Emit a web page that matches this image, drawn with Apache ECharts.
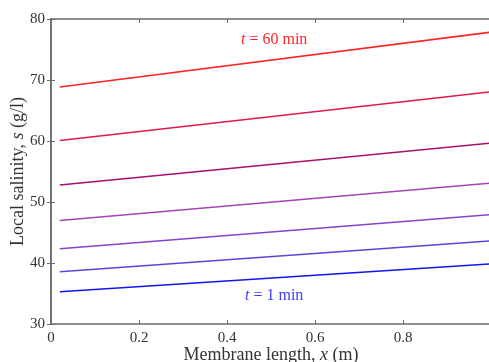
<!DOCTYPE html>
<html>
<head>
<meta charset="utf-8">
<script src="https://cdn.jsdelivr.net/npm/echarts@6/dist/echarts.min.js"></script>
<style>
  html, body { margin: 0; padding: 0; background: #fff; }
  #chart { width: 489px; height: 362px; }
</style>
</head>
<body>
<div id="chart"></div>
<script>
// positions along the membrane (m)
const xPos = [0.02, 1.0];

// local salinity (g/l), from t = 60 min (top) to t = 1 min (bottom)
const s60 = [68.85, 77.85];
const s50 = [60.1, 68.05];
const s40 = [52.8, 59.65];
const s30 = [46.95, 53.1];
const s20 = [42.35, 47.95];
const s10 = [38.55, 43.65];
const s1 = [35.3, 39.85];

const lineData = [s60, s50, s40, s30, s20, s10, s1];
const lineColors = ['#ff2424', '#e01a4c', '#a8106a', '#a444b4', '#8444cc', '#5a44e2', '#1414f4'];

const xTicks = [0, 0.2, 0.4, 0.6, 0.8];
const yTicks = [30, 40, 50, 60, 70, 80];

const chart = echarts.init(document.getElementById('chart'), null, { renderer: 'canvas' });

const serif = 'Liberation Serif';
const axisCol = '#6b6b6b';

const series = lineData.map((vals, i) => ({
  type: 'line',
  data: vals.map((v, j) => [xPos[j], v]),
  showSymbol: false,
  symbol: 'none',
  silent: true,
  lineStyle: { color: lineColors[i], width: 1.5 },
  xAxisIndex: 0,
  yAxisIndex: 0
}));

// rich styles for "t = .. min" annotations
const annot = (color) => ({
  fontWeight: 'normal',
  rich: {
    i: { fontFamily: serif, fontSize: 16, color: color, fontStyle: 'italic', fontWeight: 'normal' },
    r: { fontFamily: serif, fontSize: 16, color: color, fontWeight: 'normal' }
  }
});

const nameRich = {
  r: { fontFamily: serif, fontSize: 18, color: '#333' },
  i: { fontFamily: serif, fontSize: 18, color: '#333', fontStyle: 'italic' }
};

const option = {
  animation: false,
  backgroundColor: '#fff',
  grid: { left: 51, right: -2, top: 19, bottom: 38, containLabel: false, outerBoundsMode: 'none' },
  xAxis: [
    {
      type: 'value', min: 0, max: 1, interval: 0.2, position: 'bottom',
      axisLine: { lineStyle: { color: axisCol, width: 1.5 } },
      axisTick: { inside: true, length: 4, lineStyle: { color: axisCol } },
      splitLine: { show: false },
      axisLabel: {
        color: '#333', fontFamily: serif, fontSize: 15, margin: 7,
        formatter: v => xTicks.includes(Math.round(v * 10) / 10) ? String(Math.round(v * 10) / 10) : ''
      },
      name: '{r|Membrane length, }{i|x}{r| (m)}',
      nameLocation: 'middle', nameGap: 22, nameMoveOverlap: false,
      nameTextStyle: { rich: nameRich }
    },
    {
      type: 'value', min: 0, max: 1, interval: 0.2, position: 'top',
      axisLine: { lineStyle: { color: axisCol, width: 1.5 } },
      axisTick: { inside: true, length: 4, lineStyle: { color: axisCol } },
      axisLabel: { show: false },
      splitLine: { show: false }
    }
  ],
  yAxis: [
    {
      type: 'value', min: 30, max: 80, interval: 10, position: 'left',
      axisLine: { show: true, lineStyle: { color: axisCol, width: 1.5 } },
      axisTick: { show: true, inside: true, length: 4, lineStyle: { color: axisCol } },
      splitLine: { show: false },
      axisLabel: {
        color: '#333', fontFamily: serif, fontSize: 15, margin: 6,
        formatter: v => yTicks.includes(v) ? String(v) : ''
      },
      name: '{r|Local salinity, }{i|s}{r| (g/l)}',
      nameLocation: 'middle', nameGap: 24, nameRotate: 90, nameMoveOverlap: false,
      nameTextStyle: { rich: nameRich }
    },
    {
      type: 'value', min: 30, max: 80, interval: 10, position: 'right',
      axisLine: { show: true, lineStyle: { color: axisCol, width: 1.5 } },
      axisTick: { show: true, inside: true, length: 4, lineStyle: { color: axisCol } },
      axisLabel: { show: false },
      splitLine: { show: false }
    }
  ],
  title: [
    { text: '{i|t}{r| = 60 min}', left: 236, top: 27, textStyle: annot('#ff2424') },
    { text: '{i|t}{r| = 1 min}', left: 240, top: 283, textStyle: annot('#3c3cf4') }
  ],
  series: series
};

chart.setOption(option);
</script>
</body>
</html>
